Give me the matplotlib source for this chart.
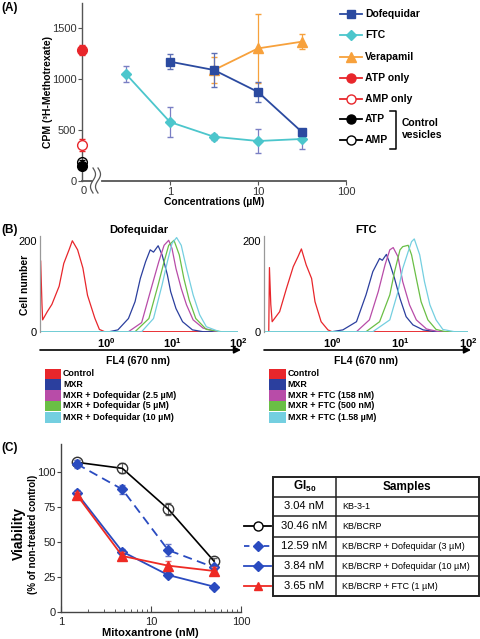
import matplotlib
matplotlib.use('Agg')
import matplotlib.pyplot as plt
import numpy as np
from matplotlib.patches import Rectangle
from matplotlib.ticker import NullLocator

plt.rcParams['font.family'] = ['Liberation Sans', 'DejaVu Sans']
plt.rcParams['mathtext.fontset'] = 'custom'
plt.rcParams['mathtext.rm'] = 'Liberation Sans'
plt.rcParams['mathtext.bf'] = 'Liberation Sans:bold'

# ---------------- Panel A data ----------------
conc_dof = [1, 3.16, 10, 31.6]
cpm_dof = [1170, 1088, 873, 480]
err_dof = [75, 165, 95, 30]
conc_ftc = [0.316, 1, 3.16, 10, 31.6]
cpm_ftc = [1049, 578, 434, 392, 412]
err_ftc = [80, 150, 30, 120, 100]
conc_ver = [3.16, 10, 31.6]
cpm_ver = [1088, 1300, 1366]
err_ver = [125, 335, 75]
ctrl_names = ['ATP only', 'AMP only', 'ATP', 'AMP']
ctrl_cpm = [1284, 353, 150, 189]
ctrl_err = [50, 60, 15, 20]
legend_a = ['Dofequidar', 'FTC', 'Verapamil', 'ATP only', 'AMP only', 'ATP', 'AMP']
xticks_a = [1, 10, 100]
xticklabels_a = ['1', '10', '100']

# ---------------- Panel B data (log10 FL4, cell number) ----------------
dof_ctrl_x = [-1.05, -1.0, -0.99, -0.97, -0.96, -0.89, -0.82, -0.71, -0.64, -0.56, -0.51, -0.43, -0.35, -0.28, -0.17, -0.10, -0.02, 2.0]
dof_ctrl_y = [0, 0, 156, 60, 26, 44, 60, 100, 150, 180, 200, 180, 140, 80, 30, 5, 0, 0]
dof_mxr_x = [-1.05, 0.05, 0.18, 0.34, 0.44, 0.52, 0.60, 0.67, 0.72, 0.79, 0.85, 0.93, 0.98, 1.06, 1.16, 1.31, 1.47, 2.0]
dof_mxr_y = [0, 0, 4, 29, 66, 117, 154, 180, 175, 189, 169, 125, 88, 51, 22, 4, 0, 0]
dof_25_x = [-1.05, 0.34, 0.54, 0.70, 0.80, 0.88, 0.95, 1.00, 1.06, 1.14, 1.22, 1.32, 1.47, 1.68, 2.0]
dof_25_y = [0, 0, 20, 103, 154, 190, 201, 183, 139, 95, 59, 26, 8, 0, 0]
dof_5_x = [-1.05, 0.44, 0.65, 0.79, 0.88, 0.95, 1.03, 1.11, 1.18, 1.26, 1.36, 1.52, 1.75, 2.0]
dof_5_y = [0, 0, 29, 103, 154, 190, 201, 169, 117, 70, 29, 5, 0, 0]
dof_10_x = [-1.05, 0.54, 0.72, 0.85, 0.93, 1.00, 1.07, 1.14, 1.22, 1.32, 1.42, 1.52, 1.72, 2.0]
dof_10_y = [0, 0, 29, 103, 154, 194, 207, 190, 139, 81, 37, 11, 0, 0]

ftc_ctrl_x = [-1.0, -0.93, -0.92, -0.90, -0.88, -0.77, -0.67, -0.57, -0.50, -0.45, -0.38, -0.30, -0.25, -0.16, -0.06, 0.0, 2.0]
ftc_ctrl_y = [0, 0, 141, 60, 22, 44, 95, 143, 165, 182, 147, 117, 66, 22, 4, 0, 0]
ftc_mxr_x = [-1.0, 0.0, 0.16, 0.36, 0.50, 0.60, 0.70, 0.74, 0.80, 0.85, 0.92, 1.00, 1.09, 1.19, 1.34, 1.53, 2.0]
ftc_mxr_y = [0, 0, 4, 22, 81, 132, 161, 157, 170, 150, 117, 73, 33, 15, 4, 0, 0]
ftc_158_x = [-1.0, 0.36, 0.55, 0.68, 0.78, 0.85, 0.90, 0.97, 1.04, 1.14, 1.24, 1.39, 1.57, 2.0]
ftc_158_y = [0, 0, 26, 88, 147, 180, 185, 165, 110, 59, 26, 6, 0, 0]
ftc_500_x = [-1.0, 0.50, 0.70, 0.85, 0.92, 1.00, 1.04, 1.12, 1.17, 1.24, 1.31, 1.41, 1.53, 1.67, 2.0]
ftc_500_y = [0, 0, 22, 81, 132, 180, 187, 190, 169, 117, 66, 26, 5, 0, 0]
ftc_158u_x = [-1.0, 0.60, 0.85, 0.97, 1.04, 1.12, 1.17, 1.21, 1.29, 1.36, 1.44, 1.53, 1.63, 1.80, 2.0]
ftc_158u_y = [0, 0, 26, 88, 139, 176, 198, 204, 169, 110, 59, 26, 5, 0, 0]

hist_colors = ['#e8262b', '#2b3f9e', '#b84ca8', '#6abf45', '#74cfe0']
legend_b_left = ['Control', 'MXR', 'MXR + Dofequidar (2.5 µM)', 'MXR + Dofequidar (5 µM)', 'MXR + Dofequidar (10 µM)']
legend_b_right = ['Control', 'MXR', 'MXR + FTC (158 nM)', 'MXR + FTC (500 nM)', 'MXR + FTC (1.58 µM)']

# ---------------- Panel C data ----------------
mitox = [1.5, 4.8, 15.5, 50]
via_bcrp = [106.7, 102.4, 73.4, 36.2]
err_bcrp = [2.0, 3.5, 4.0, 2.5]
via_dof3 = [105.5, 87.4, 44.0, 31.7]
err_dof3 = [3.0, 3.0, 4.5, 2.0]
via_dof10 = [84.6, 42.9, 26.2, 17.9]
err_dof10 = [2.5, 2.0, 1.5, 1.0]
via_ftc = [83.4, 39.8, 32.9, 29.1]
err_ftc_c = [2.0, 3.0, 3.0, 2.5]
gi50 = ['3.04 nM', '30.46 nM', '12.59 nM', '3.84 nM', '3.65 nM']
samples = ['KB-3-1', 'KB/BCRP', 'KB/BCRP + Dofequidar (3 µM)',
           'KB/BCRP + Dofequidar (10 µM)', 'KB/BCRP + FTC (1 µM)']

W, H = 480, 639
fig = plt.figure(figsize=(4.8, 6.39), dpi=100)


def axes_px(x0, y0, x1, y1):
    return fig.add_axes([x0 / W, 1 - y1 / H, (x1 - x0) / W, (y1 - y0) / H])


C_DOF = '#2b4aa0'
C_FTC = '#4cc6cc'
C_VER = '#f7a13c'
C_RED = '#e8262b'
GRAY = '#555555'

# ================= Panel A =================
axA = axes_px(82, 2.5, 346, 181)
axA.set_xscale('log')
axA.set_xlim(0.1, 100)
axA.set_ylim(0, 1750)
for s in ['top', 'right', 'bottom']:
    axA.spines[s].set_visible(False)
axA.spines['left'].set_color(GRAY)
axA.spines['left'].set_linewidth(1.0)
axA.set_yticks([0, 500, 1000, 1500])
axA.set_xticks(xticks_a)
axA.set_xticklabels(xticklabels_a)
axA.xaxis.set_minor_locator(NullLocator())
axA.tick_params(axis='both', labelsize=8, colors=GRAY, labelcolor='#333333', length=3, width=0.8)
axA.tick_params(axis='y', pad=1)
axA.tick_params(axis='x', pad=1.5)
# broken x axis
axA.plot([0, 0.036], [0, 0], transform=axA.transAxes, color=GRAY, lw=1.3, clip_on=False)
axA.plot([0.075, 1.0], [0, 0], transform=axA.transAxes, color=GRAY, lw=1.3, clip_on=False)

axA.errorbar(conc_dof, cpm_dof, yerr=err_dof, color=C_DOF, ecolor='#5d6fb5', elinewidth=0.9,
             capsize=2.5, marker='s', ms=6, lw=1.3, zorder=4)
axA.errorbar(conc_ftc, cpm_ftc, yerr=err_ftc, color=C_FTC, ecolor='#7a7fc4', elinewidth=0.9,
             capsize=2.5, marker='D', ms=5.5, lw=1.3, zorder=3)
axA.errorbar(conc_ver, cpm_ver, yerr=err_ver, color=C_VER, ecolor=C_VER, elinewidth=0.9,
             capsize=2.5, marker='^', ms=7, lw=1.3, zorder=3)
ctrl_styles = [dict(color=C_RED, mfc=C_RED), dict(color=C_RED, mfc='white'),
               dict(color='black', mfc='black'), dict(color='black', mfc='none')]
for v, e, st in zip(ctrl_cpm, ctrl_err, ctrl_styles):
    axA.errorbar([0.1], [v], yerr=[e], color=st['color'], mfc=st['mfc'], mec=st['color'],
                 marker='o', ms=7, capsize=2.5, elinewidth=0.9, clip_on=False, zorder=5, lw=0)

# ================= Panel B =================
def hist_axes(x0, x1, curves, title):
    ax = axes_px(x0, 236.2, x1, 331.7)
    ax.set_xscale('log')
    ax.set_xlim(0.1, 100)
    ax.set_ylim(0, 210)
    for s in ['top', 'right', 'bottom']:
        ax.spines[s].set_visible(False)
    ax.spines['left'].set_color('#999999')
    ax.spines['left'].set_linewidth(0.9)
    ax.set_yticks([0, 200])
    ax.set_xticks([1, 10, 100])
    ax.set_xticklabels([r'$\mathbf{10^{0}}$', r'$\mathbf{10^{1}}$', r'$\mathbf{10^{2}}$'])
    ax.xaxis.set_minor_locator(NullLocator())
    ax.tick_params(axis='both', length=0, labelsize=8, pad=2)
    ax.tick_params(axis='x', pad=3)
    for (xs, ys), c in zip(curves, hist_colors):
        ax.plot(10 ** np.array(xs), ys, color=c, lw=0.9)
    ax.set_title(title, fontsize=8, fontweight='bold', pad=2)
    return ax

axB1 = hist_axes(40, 238, [(dof_ctrl_x, dof_ctrl_y), (dof_mxr_x, dof_mxr_y), (dof_25_x, dof_25_y),
                          (dof_5_x, dof_5_y), (dof_10_x, dof_10_y)], 'Dofequidar')
axB2 = hist_axes(264, 468, [(ftc_ctrl_x, ftc_ctrl_y), (ftc_mxr_x, ftc_mxr_y), (ftc_158_x, ftc_158_y),
                           (ftc_500_x, ftc_500_y), (ftc_158u_x, ftc_158u_y)], 'FTC')

# ================= Panel C =================
axC = axes_px(61, 443.7, 241, 611.7)
axC.set_xscale('log')
axC.set_xlim(1, 100)
axC.set_ylim(0, 120)
for s in ['top', 'right']:
    axC.spines[s].set_visible(False)
for s in ['left', 'bottom']:
    axC.spines[s].set_color('#444444')
    axC.spines[s].set_linewidth(1.0)
axC.set_yticks([0, 25, 50, 75, 100])
axC.set_xticks([1, 10, 100])
axC.set_xticklabels(['1', '10', '100'])
axC.tick_params(axis='y', labelsize=8, length=3, width=0.8, pad=1, colors='#444444', labelcolor='#222222')
axC.tick_params(axis='x', which='major', labelsize=8, length=4, width=0.8, direction='in', pad=4,
                colors='#444444', labelcolor='#222222')
axC.tick_params(axis='x', which='minor', length=2.5, width=0.6, direction='in', colors='#444444')
axC.errorbar(mitox, via_bcrp, yerr=err_bcrp, color='black', mfc='none', mec='#333333', marker='o',
             ms=7.5, lw=1.2, ecolor='#666666', elinewidth=0.8, capsize=2, zorder=3)
axC.errorbar(mitox, via_dof3, yerr=err_dof3, color='#2a4bc0', marker='D', ms=5.5, lw=1.3,
             ls=(0, (5, 3)), ecolor='#6677cc', elinewidth=0.8, capsize=2, zorder=3)
axC.errorbar(mitox, via_dof10, yerr=err_dof10, color='#2a4bc0', marker='D', ms=5.5, lw=1.3,
             ecolor='#6677cc', elinewidth=0.8, capsize=2, zorder=3)
axC.errorbar(mitox, via_ftc, yerr=err_ftc_c, color='#ee2a24', marker='^', ms=6.5, lw=1.3,
             ecolor='#f07070', elinewidth=0.8, capsize=2, zorder=4)

# ================= Overlay (pixel coordinates) =================
ov = fig.add_axes([0, 0, 1, 1], zorder=10)
ov.set_xlim(0, W)
ov.set_ylim(H, 0)
ov.axis('off')
ov.patch.set_visible(False)

# panel labels
for lab, y in [('(A)', 8), ('(B)', 230), ('(C)', 448)]:
    ov.text(1, y, lab, fontsize=8.5, fontweight='bold', va='center', ha='left')

# Panel A extras
t = np.linspace(0, 1, 40)
for dx in (0, 5):
    ov.plot(93 + dx + 2.5 * np.sin(t * 2 * np.pi), 168 + 25 * t, color=GRAY, lw=0.9)
ov.text(84, 190.5, '0', fontsize=8, ha='center', va='center', color='#333333')
ov.text(214, 202, 'Concentrations (µM)', fontsize=7.5, fontweight='bold', ha='center', va='center')
ov.text(48, 92, 'CPM (³H-Methotrexate)', fontsize=7.5, fontweight='bold', ha='center', va='center',
        rotation=90)

leg_y = [14.3, 35, 57, 78.3, 99, 119.3, 140]
leg_style = [dict(c=C_DOF, m='s', mfc=C_DOF, ms=6), dict(c=C_FTC, m='D', mfc=C_FTC, ms=5.5),
             dict(c=C_VER, m='^', mfc=C_VER, ms=7), dict(c=C_RED, m='o', mfc=C_RED, ms=6.5),
             dict(c=C_RED, m='o', mfc='white', ms=6.5), dict(c='black', m='o', mfc='black', ms=6.5),
             dict(c='black', m='o', mfc='white', ms=6.5)]
for y, name, st in zip(leg_y, legend_a, leg_style):
    ov.plot([340, 362], [y, y], color=st['c'], lw=1.3)
    ov.plot([351], [y], marker=st['m'], color=st['c'], mfc=st['mfc'], mec=st['c'], ms=st['ms'])
    ov.text(365, y, name, fontsize=7.5, fontweight='bold', va='center', ha='left')
ov.plot([390, 395.5, 395.5, 390], [111, 111, 149, 149], color='black', lw=1.1)
ov.text(402, 123, 'Control', fontsize=7.5, fontweight='bold', va='center', ha='left')
ov.text(402, 134.5, 'vesicles', fontsize=7.5, fontweight='bold', va='center', ha='left')

# Panel B extras
for x0, x1 in [(40, 241), (264, 471)]:
    ov.annotate('', xy=(x1, 350), xytext=(x0, 350),
                arrowprops=dict(arrowstyle='-|>', color='black', lw=1.2, mutation_scale=10,
                                shrinkA=0, shrinkB=0))
    ov.text((x0 + x1) / 2 - 2, 360.5, 'FL4 (670 nm)', fontsize=7.5, fontweight='bold', ha='center',
            va='center')
ov.text(25, 285, 'Cell number', fontsize=7.5, fontweight='bold', rotation=90, ha='center', va='center')

row_y = [374, 384.7, 395.3, 406, 417.3]
for (px0, px1, tx, names) in [(45, 61, 63, legend_b_left), (269, 286, 287.5, legend_b_right)]:
    for y, name, c in zip(row_y, names, hist_colors):
        ov.add_patch(Rectangle((px0, y - 5.4), px1 - px0, 10.8, color=c, lw=0))
        ov.text(tx, y, name, fontsize=6.4, fontweight='bold', va='center', ha='left')

# Panel C extras
ov.text(150, 632.5, 'Mitoxantrone (nM)', fontsize=8, fontweight='bold', ha='center', va='center')
ov.text(19, 533, 'Viability', fontsize=10, fontweight='bold', rotation=90, ha='center', va='center')
ov.text(33.5, 534, '(% of non-treated control)', fontsize=7, fontweight='bold', rotation=90,
        ha='center', va='center')

# table
tx0, tx1, tdiv = 273, 478.5, 336
ty = [477, 496.5, 516.3, 536.5, 556.3, 576.2, 596]
ov.add_patch(Rectangle((tx0, ty[0]), tx1 - tx0, ty[-1] - ty[0], fill=False, ec='#222222', lw=1.4))
for y in ty[1:-1]:
    ov.plot([tx0, tx1], [y, y], color='#222222', lw=1.1)
ov.plot([tdiv, tdiv], [ty[0], ty[-1]], color='#222222', lw=1.1)
ov.text((tx0 + tdiv) / 2, (ty[0] + ty[1]) / 2, r'GI$_{\mathbf{50}}$', fontsize=8.5, fontweight='bold',
        ha='center', va='center')
ov.text((tdiv + tx1) / 2, (ty[0] + ty[1]) / 2, 'Samples', fontsize=8.5, fontweight='bold',
        ha='center', va='center')
for i, (g, s) in enumerate(zip(gi50, samples)):
    yc = (ty[i + 1] + ty[i + 2]) / 2
    ov.text((tx0 + tdiv) / 2, yc, g, fontsize=8, ha='center', va='center')
    ov.text(342.5, yc, s, fontsize=6.5, ha='left', va='center')

key_style = [None,
             dict(c='black', ls='-', m='o', mfc='white', ms=6.5),
             dict(c='#2a4bc0', ls=(0, (3, 2.5)), m='D', mfc='#2a4bc0', ms=5.5),
             dict(c='#2a4bc0', ls='-', m='D', mfc='#2a4bc0', ms=5.5),
             dict(c='#ee2a24', ls='-', m='^', mfc='#ee2a24', ms=6)]
for i, st in enumerate(key_style):
    if st is None:
        continue
    yc = (ty[i + 1] + ty[i + 2]) / 2
    ov.plot([244, 271], [yc, yc], color=st['c'], ls=st['ls'], lw=1.3)
    ov.plot([257.5], [yc], marker=st['m'], color=st['c'], mfc=st['mfc'], mec=st['c'], ms=st['ms'])

fig.savefig('out.png', dpi=100)
